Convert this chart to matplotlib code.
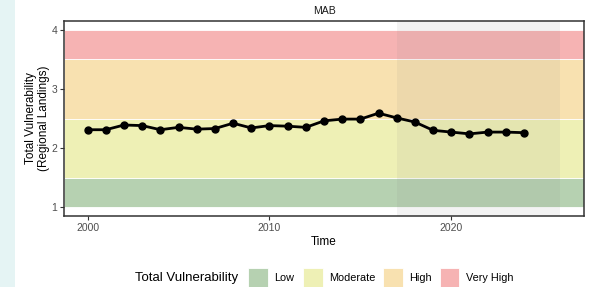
import numpy as np
import matplotlib.pyplot as plt
from matplotlib.patches import Rectangle

plt.rcParams['font.family'] = ['Liberation Sans', 'DejaVu Sans']

# Total vulnerability, MAB region (regional landings)
anios = np.arange(2000, 2025)
vulnerabilidad = [2.31, 2.31, 2.39, 2.38, 2.31, 2.35, 2.32, 2.33, 2.42, 2.34,
                  2.38, 2.37, 2.35, 2.46, 2.49, 2.49, 2.59, 2.51, 2.44, 2.30,
                  2.27, 2.24, 2.27, 2.27, 2.26]

categorias = ['Low', 'Moderate', 'High', 'Very High']
limites = [(1, 1.5), (1.5, 2.5), (2.5, 3.5), (3.5, 4)]
colores = ['#b6d1b1', '#eef0b5', '#f8e1b0', '#f6b3b3']

periodo_sombreado = (2017, 2026)

fig = plt.figure(figsize=(5.92, 2.87), dpi=100)
ax = fig.add_axes([0.1081, 0.2474, 0.8784, 0.6794])

# franjas de categoria
for (y0, y1), c in zip(limites, colores):
    ax.axhspan(y0, y1, facecolor=c, edgecolor='white', linewidth=0.6, zorder=1)

# periodo sombreado
ax.axvspan(periodo_sombreado[0], periodo_sombreado[1], color='#808080',
           alpha=0.09, linewidth=0, zorder=2)

ax.plot(anios, vulnerabilidad, color='black', linewidth=2.0, marker='o',
        markersize=5, zorder=3)

ax.set_xlim(1998.7, 2027.3)
ax.set_ylim(0.85, 4.15)
ax.set_xticks([2000, 2010, 2020])
ax.set_yticks([1, 2, 3, 4])
ax.tick_params(axis='both', direction='out', length=3, width=0.8,
               color='#333333', labelcolor='#4d4d4d', labelsize=7.5, pad=2)
for s in ax.spines.values():
    s.set_color('#333333')
    s.set_linewidth(1.1)
    s.set_zorder(5)

ax.set_title('MAB', fontsize=7.6, color='#1a1a1a', pad=5)
ax.set_xlabel('Time', fontsize=8.5, labelpad=2)
ax.set_ylabel('Total Vulnerability\n(Regional Landings)', fontsize=8.5,
              labelpad=1, linespacing=1.05)

# leyenda inferior
fig.text(135 / 592, 1 - 278 / 287, 'Total Vulnerability', fontsize=9.5,
         va='center', ha='left')
claves_x = [248, 303, 383, 439.5]
for xk, etiqueta, c in zip(claves_x, categorias, colores):
    fig.patches.append(Rectangle((xk / 592, 1 - 288 / 287), 19.5 / 592, 20 / 287,
                                 transform=fig.transFigure, facecolor=c,
                                 edgecolor='white', linewidth=0.6))
    fig.text((xk + 26.5) / 592, 1 - 278 / 287, etiqueta, fontsize=7.8,
             va='center', ha='left')

# franja lateral izquierda
fig.patches.append(Rectangle((0, 0), 15 / 592, 1, transform=fig.transFigure,
                             facecolor='#e5f4f4', edgecolor='none'))

fig.savefig('out.png', dpi=100)
